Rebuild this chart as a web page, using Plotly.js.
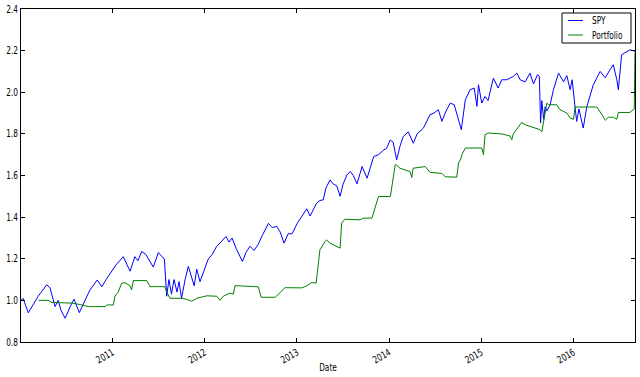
<!DOCTYPE html>
<html>
<head>
<meta charset="utf-8">
<script src="https://cdn.plot.ly/plotly-3.0.1.min.js"></script>
<style>
html,body{margin:0;padding:0;background:#fff;}
#chart{width:640px;height:377px;}
</style>
</head>
<body>
<div id="chart"></div>
<script>
var spyDates = ['2010-01-04','2010-01-12','2010-02-02','2010-02-17','2010-03-13','2010-04-16','2010-04-29','2010-05-19','2010-05-31','2010-06-12','2010-06-28','2010-07-18','2010-08-02','2010-08-23','2010-09-10','2010-10-04','2010-11-02','2010-11-20','2010-12-07','2011-01-03','2011-01-15','2011-02-13','2011-03-12','2011-03-31','2011-04-12','2011-04-27','2011-05-14','2011-06-12','2011-07-02','2011-07-16','2011-07-26','2011-08-04','2011-08-13','2011-08-23','2011-09-02','2011-09-14','2011-09-22','2011-10-02','2011-10-16','2011-10-29','2011-11-08','2011-11-21','2011-12-01','2011-12-14','2011-12-29','2012-01-16','2012-01-31','2012-02-18','2012-03-06','2012-03-26','2012-04-07','2012-04-19','2012-05-05','2012-05-17','2012-05-30','2012-06-13','2012-06-29','2012-07-15','2012-08-01','2012-08-16','2012-09-10','2012-09-25','2012-10-13','2012-10-26','2012-11-11','2012-11-27','2012-12-13','2013-01-02','2013-01-17','2013-02-09','2013-02-22','2013-03-20','2013-04-02','2013-04-15','2013-04-26','2013-05-12','2013-05-24','2013-06-08','2013-06-21','2013-07-03','2013-07-18','2013-07-31','2013-08-12','2013-08-27','2013-09-16','2013-10-06','2013-10-19','2013-11-01','2013-11-20','2013-12-11','2013-12-22','2014-01-05','2014-01-17','2014-01-31','2014-02-13','2014-02-26','2014-03-18','2014-04-07','2014-04-22','2014-05-17','2014-06-12','2014-06-28','2014-07-15','2014-07-29','2014-08-11','2014-08-31','2014-09-16','2014-09-28','2014-10-14','2014-10-30','2014-11-18','2014-12-04','2014-12-15','2014-12-21','2015-01-03','2015-01-16','2015-01-28','2015-02-18','2015-03-09','2015-03-23','2015-04-12','2015-05-08','2015-05-22','2015-06-04','2015-06-24','2015-07-13','2015-07-27','2015-08-12','2015-08-19','2015-08-24','2015-08-29','2015-09-05','2015-09-11','2015-09-18','2015-10-01','2015-10-14','2015-11-03','2015-11-23','2015-12-06','2015-12-19','2015-12-27','2016-01-08','2016-01-14','2016-01-23','2016-01-31','2016-02-09','2016-02-23','2016-03-20','2016-04-16','2016-05-06','2016-05-25','2016-06-07','2016-06-21','2016-06-27','2016-07-10','2016-07-23','2016-08-12','2016-08-24','2016-09-01'];
var spyValues = [1.00,1.01,0.94,0.97,1.02,1.075,1.06,0.97,1.00,0.95,0.914,0.97,1.006,0.941,0.99,1.05,1.098,1.065,1.10,1.15,1.17,1.21,1.14,1.21,1.19,1.235,1.22,1.16,1.23,1.21,1.20,1.02,1.10,1.03,1.10,1.04,1.09,1.01,1.10,1.163,1.12,1.07,1.15,1.09,1.14,1.20,1.22,1.26,1.28,1.307,1.28,1.30,1.25,1.22,1.187,1.23,1.26,1.24,1.27,1.31,1.37,1.35,1.355,1.33,1.275,1.32,1.32,1.37,1.40,1.44,1.405,1.467,1.48,1.483,1.54,1.579,1.56,1.55,1.50,1.56,1.603,1.619,1.60,1.56,1.643,1.587,1.64,1.691,1.70,1.723,1.73,1.771,1.76,1.675,1.74,1.787,1.81,1.755,1.80,1.828,1.892,1.90,1.916,1.86,1.90,1.948,1.94,1.89,1.82,1.964,2.012,2.02,1.932,2.036,1.948,1.98,1.96,2.068,2.02,2.06,2.06,2.076,2.092,2.06,2.05,2.092,2.04,2.085,2.077,1.852,1.96,1.87,1.93,1.91,1.94,2.012,2.092,2.05,2.08,2.012,2.06,1.924,1.86,1.92,1.88,1.828,1.93,2.036,2.10,2.07,2.108,2.132,2.06,2.012,2.18,2.19,2.204,2.20,2.196];

var portDates = ['2010-03-15','2010-04-21','2010-05-07','2010-07-24','2010-08-26','2010-09-28','2010-12-03','2010-12-11','2011-01-05','2011-01-11','2011-01-24','2011-02-07','2011-02-20','2011-03-12','2011-03-18','2011-03-25','2011-05-17','2011-05-30','2011-07-28','2011-08-04','2011-08-17','2011-10-02','2011-10-22','2011-11-11','2011-12-01','2012-01-10','2012-02-18','2012-03-02','2012-03-15','2012-04-11','2012-04-24','2012-05-01','2012-08-01','2012-08-12','2012-10-07','2012-10-26','2012-11-15','2013-01-20','2013-02-09','2013-03-01','2013-03-18','2013-04-02','2013-04-22','2013-04-29','2013-05-12','2013-06-21','2013-06-27','2013-07-10','2013-09-08','2013-09-21','2013-10-25','2013-11-20','2014-01-06','2014-01-25','2014-01-31','2014-02-13','2014-03-25','2014-04-01','2014-04-06','2014-05-24','2014-06-12','2014-07-29','2014-08-11','2014-09-26','2014-10-03','2014-10-12','2014-10-16','2014-10-30','2015-01-03','2015-01-10','2015-01-16','2015-01-28','2015-03-23','2015-04-25','2015-05-02','2015-05-08','2015-06-10','2015-06-24','2015-08-22','2015-08-29','2015-09-18','2015-09-24','2015-10-27','2015-11-09','2015-12-06','2015-12-19','2016-01-01','2016-01-08','2016-04-03','2016-04-29','2016-05-06','2016-05-19','2016-06-07','2016-06-21','2016-06-27','2016-08-12','2016-08-25','2016-08-29','2016-09-01'];
var portValues = [1.00,1.00,0.99,0.987,0.98,0.97,0.97,0.978,0.978,1.02,1.04,1.083,1.085,1.07,1.05,1.095,1.095,1.066,1.066,1.04,1.01,1.01,1.005,0.996,1.01,1.022,1.02,1.00,1.02,1.035,1.03,1.071,1.065,1.015,1.015,1.04,1.061,1.06,1.07,1.086,1.083,1.243,1.283,1.29,1.275,1.251,1.371,1.39,1.387,1.395,1.395,1.499,1.499,1.651,1.65,1.635,1.619,1.59,1.635,1.643,1.615,1.61,1.594,1.592,1.66,1.68,1.70,1.732,1.732,1.70,1.796,1.804,1.80,1.79,1.772,1.80,1.855,1.844,1.82,1.81,1.948,1.94,1.94,1.916,1.90,1.876,1.87,1.929,1.929,1.881,1.865,1.88,1.88,1.87,1.903,1.903,1.916,1.92,2.19];

var seriesNames = ['SPY','Portfolio'];
var seriesColors = ['#0000ff','#008000'];
var yearTicks = ['2011-01-01','2012-01-01','2013-01-01','2014-01-01','2015-01-01','2016-01-01'];
var yearLabels = ['2011','2012','2013','2014','2015','2016'];
var yTicks = [0.8,1.0,1.2,1.4,1.6,1.8,2.0,2.2,2.4];

var font = {family:'DejaVu Sans, sans-serif', size:10, color:'#000'};

var traces = [
  {x: spyDates, y: spyValues, type:'scatter', mode:'lines', name:seriesNames[0],
   line:{color:seriesColors[0], width:1}},
  {x: portDates, y: portValues, type:'scatter', mode:'lines', name:seriesNames[1],
   line:{color:seriesColors[1], width:1}}
];

// matplotlib-style legend box (paper coordinates of the plot area)
var L = 21, W = 614, T = 9, H = 333;
function px(x){ return (x - L) / W; }
function py(y){ return 1 - (y - T) / H; }
var legendRows = [20.5, 35];
var shapes = [
  {type:'rect', xref:'paper', yref:'paper', x0:px(562), x1:px(631), y0:py(43), y1:py(13),
   line:{color:'#000', width:1}, fillcolor:'#fff', layer:'above'}
];
var annotations = [];
seriesNames.forEach(function(n, i){
  shapes.push({type:'line', xref:'paper', yref:'paper', x0:px(568), x1:px(583),
    y0:py(legendRows[i]), y1:py(legendRows[i]), line:{color:seriesColors[i], width:1}, layer:'above'});
  annotations.push({xref:'paper', yref:'paper', x:px(590), y:py(legendRows[i]),
    xanchor:'left', yanchor:'middle', align:'left', text:n, showarrow:false, font:font});
});

var layout = {
  width:640, height:377,
  margin:{l:21, r:5, t:9, b:35, pad:0},
  paper_bgcolor:'#fff', plot_bgcolor:'#fff',
  font: font,
  showlegend:false,
  shapes: shapes,
  annotations: annotations,
  xaxis:{type:'date', range:['2010-01-04','2016-09-01'],
         tickmode:'array', tickvals:yearTicks, ticktext:yearLabels,
         tickangle:-30, ticks:'inside', ticklen:4, tickcolor:'#000',
         showline:true, linecolor:'#000', linewidth:1, mirror:'allticks',
         showgrid:false, zeroline:false, tickfont:font,
         title:{text:'Date', font:font, standoff:0}},
  yaxis:{range:[0.8,2.4], tickmode:'array', tickvals:yTicks,
         ticktext:yTicks.map(function(v){return v.toFixed(1);}),
         ticks:'inside', ticklen:4, tickcolor:'#000',
         showline:true, linecolor:'#000', linewidth:1, mirror:'allticks',
         showgrid:false, zeroline:false, tickfont:font}
};

Plotly.newPlot('chart', traces, layout, {staticPlot:true, displayModeBar:false}).then(function(gd){
  // the reference's lettering is horizontally narrow; condense the glyphs
  var texts = gd.querySelectorAll('.xtick text, .ytick text, .annotation-text, .g-xtitle text');
  Array.prototype.forEach.call(texts, function(t){
    var len = t.getComputedTextLength();
    if (len > 0) {
      t.setAttribute('textLength', (len * 0.74).toFixed(2));
      t.setAttribute('lengthAdjust', 'spacingAndGlyphs');
    }
  });
  var xt = gd.querySelector('.g-xtitle');
  if (xt) xt.setAttribute('transform', 'translate(0,-4)');
});
</script>
</body>
</html>
